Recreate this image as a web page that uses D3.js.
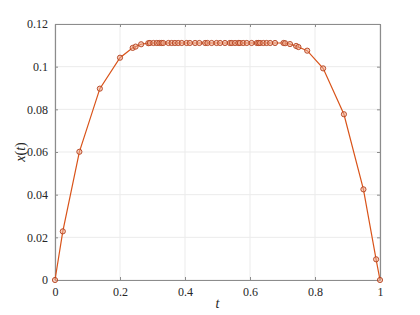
<!DOCTYPE html>
<html><head><meta charset="utf-8">
<script src="https://cdn.jsdelivr.net/npm/d3@7"></script>
<style>body{margin:0;background:#fff;} svg{display:block;}</style>
</head><body>
<script>
const tValues = [0, 0.024, 0.075, 0.138, 0.2, 0.239, 0.248, 0.265,
  0.287, 0.292, 0.303, 0.313, 0.321, 0.328, 0.333, 0.349, 0.359, 0.369, 0.379, 0.390,
  0.405, 0.415, 0.431, 0.444, 0.462, 0.469, 0.482, 0.497, 0.508, 0.523, 0.538, 0.544,
  0.554, 0.564, 0.569, 0.579, 0.590, 0.605, 0.621, 0.626, 0.631, 0.641, 0.651, 0.662,
  0.677, 0.703, 0.708, 0.723, 0.742, 0.749, 0.776, 0.825, 0.889, 0.949, 0.988, 1];
const xValues = [0, 0.0228, 0.0601, 0.0897, 0.1042, 0.1088, 0.1094, 0.1105,
  0.1110, 0.1111, 0.1111, 0.1111, 0.1111, 0.1111, 0.1111, 0.1111, 0.1111, 0.1111, 0.1111, 0.1111,
  0.1111, 0.1111, 0.1111, 0.1111, 0.1111, 0.1111, 0.1111, 0.1111, 0.1111, 0.1111, 0.1111, 0.1111,
  0.1111, 0.1111, 0.1111, 0.1111, 0.1111, 0.1111, 0.1111, 0.1111, 0.1111, 0.1111, 0.1111, 0.1111,
  0.1111, 0.1111, 0.1110, 0.1106, 0.1097, 0.1092, 0.1075, 0.0992, 0.0777, 0.0425, 0.0097, 0];
const xTicks = [0, 0.2, 0.4, 0.6, 0.8, 1];
const yTicks = [0, 0.02, 0.04, 0.06, 0.08, 0.1, 0.12];
const xTickLabels = ["0", "0.2", "0.4", "0.6", "0.8", "1"];
const yTickLabels = ["0", "0.02", "0.04", "0.06", "0.08", "0.1", "0.12"];

const W = 420, H = 315;
const m = {l: 55, r: 40, t: 24, b: 35};
const svg = d3.select("body").append("svg").attr("width", W).attr("height", H);
const x = d3.scaleLinear().domain([0, 1]).range([m.l, W - m.r]);
const y = d3.scaleLinear().domain([0, 0.12]).range([H - m.b, m.t]);
const font = "Liberation Serif";

svg.append("g").selectAll("line").data(xTicks).join("line")
  .attr("x1", d => x(d)).attr("x2", d => x(d)).attr("y1", y(0)).attr("y2", y(0.12))
  .attr("stroke", "#ebebeb").attr("stroke-width", 1);
svg.append("g").selectAll("line").data(yTicks).join("line")
  .attr("y1", d => y(d)).attr("y2", d => y(d)).attr("x1", x(0)).attr("x2", x(1))
  .attr("stroke", "#ebebeb").attr("stroke-width", 1);

function styleAxis(g, showLabels) {
  g.attr("font-family", font).attr("font-size", 12);
  g.select(".domain").attr("stroke", "#8c8c8c").attr("stroke-width", 1.2);
  g.selectAll(".tick line").attr("stroke", "#8c8c8c");
  g.selectAll(".tick text").attr("fill", "#262626");
  if (!showLabels) g.selectAll(".tick text").remove();
}
svg.append("g").attr("transform", `translate(0,${y(0)})`)
  .call(d3.axisBottom(x).tickValues(xTicks).tickFormat((d, i) => xTickLabels[i]).tickSizeInner(-3).tickSizeOuter(0).tickPadding(7))
  .call(g => styleAxis(g, true));
svg.append("g").attr("transform", `translate(0,${y(0.12)})`)
  .call(d3.axisTop(x).tickValues(xTicks).tickSizeInner(-3).tickSizeOuter(0))
  .call(g => styleAxis(g, false));
svg.append("g").attr("transform", `translate(${x(0)},0)`)
  .call(d3.axisLeft(y).tickValues(yTicks).tickFormat((d, i) => yTickLabels[i]).tickSizeInner(-3).tickSizeOuter(0).tickPadding(7))
  .call(g => styleAxis(g, true));
svg.append("g").attr("transform", `translate(${x(1)},0)`)
  .call(d3.axisRight(y).tickValues(yTicks).tickSizeInner(-3).tickSizeOuter(0))
  .call(g => styleAxis(g, false));

const pts = tValues.map((t, i) => [t, xValues[i]]);
svg.append("path").datum(pts)
  .attr("fill", "none").attr("stroke", "#d95319").attr("stroke-width", 1.2)
  .attr("d", d3.line().x(d => x(d[0])).y(d => y(d[1])));
svg.append("g").selectAll("circle").data(pts).join("circle")
  .attr("cx", d => x(d[0])).attr("cy", d => y(d[1])).attr("r", 2.6)
  .attr("fill", "rgba(240,170,140,0.55)").attr("stroke", "#b2401c").attr("stroke-width", 0.9);

svg.append("text").attr("x", (x(0) + x(1)) / 2).attr("y", 308)
  .attr("text-anchor", "middle").attr("font-family", font).attr("font-style", "italic")
  .attr("font-size", 14).attr("fill", "#262626").text("t");
svg.append("text").attr("transform", `translate(25,${(y(0) + y(0.12)) / 2}) rotate(-90)`)
  .attr("text-anchor", "middle").attr("font-family", font).attr("font-size", 14).attr("fill", "#262626")
  .html('<tspan font-style="italic">x</tspan>(<tspan font-style="italic">t</tspan>)');
</script>
</body></html>
